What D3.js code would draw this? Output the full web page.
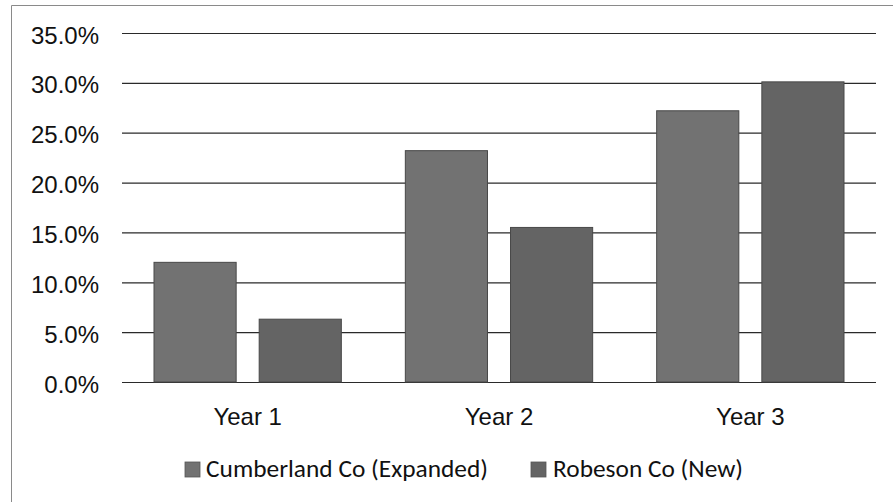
<!DOCTYPE html>
<html>
<head>
<meta charset="utf-8">
<script src="https://cdn.jsdelivr.net/npm/d3@7"></script>
<style>
  html, body { margin: 0; padding: 0; background: #fff; }
  svg { display: block; }
</style>
</head>
<body>
<svg id="chart" width="893" height="502"></svg>
<script>
// Categories, series and tick values
const years = ["Year 1", "Year 2", "Year 3"];
const seriesNames = ["Cumberland Co (Expanded)", "Robeson Co (New)"];
const cumberland = [12.0, 23.2, 27.2];
const robeson = [6.3, 15.5, 30.1];
const yTicks = [0, 5, 10, 15, 20, 25, 30, 35];
const seriesColors = ["#727272", "#646464"];

const svg = d3.select("#chart");
const W = 893, H = 502;

const plot = { left: 122, right: 876, top: 33, bottom: 382 };

// outer frame (top and left edges visible)
svg.append("line").attr("x1", 11.5).attr("x2", W).attr("y1", 5.5).attr("y2", 5.5)
  .attr("stroke", "#8a8a8a").attr("stroke-width", 1);
svg.append("line").attr("x1", 11.5).attr("x2", 11.5).attr("y1", 5.5).attr("y2", H)
  .attr("stroke", "#8a8a8a").attr("stroke-width", 1);

const y = d3.scaleLinear().domain([0, 35]).range([plot.bottom, plot.top]);
const x = d3.scaleBand().domain(years).range([plot.left, plot.right]).padding(0);
const bandW = x.bandwidth();
// two bars per year: 32px outer margin, 23px gap between bars
const xs = d3.scaleBand().domain(seriesNames)
  .range([32, bandW - 32]).paddingInner(0.219);

// y axis with gridlines
const yAxis = d3.axisLeft(y)
  .tickValues(yTicks)
  .tickSize(-(plot.right - plot.left))
  .tickPadding(23)
  .tickFormat(d => d.toFixed(1) + "%");

const gy = svg.append("g")
  .attr("transform", `translate(${plot.left},0)`)
  .call(yAxis);
gy.select(".domain").remove();
gy.selectAll(".tick line").attr("stroke", "#2a2a2a").attr("stroke-width", 1.2);
gy.selectAll(".tick text")
  .attr("font-family", "'Liberation Sans', Arial, sans-serif")
  .attr("font-size", 24)
  .attr("fill", "#111")
  .attr("dy", "0.42em");

// bars
const data = years.map((yr, i) => ({ year: yr, values: [cumberland[i], robeson[i]] }));
const groups = svg.append("g").selectAll("g")
  .data(data).join("g")
  .attr("transform", d => `translate(${x(d.year)},0)`);

groups.selectAll("rect")
  .data(d => d.values.map((v, j) => ({ name: seriesNames[j], value: v, idx: j })))
  .join("rect")
  .attr("x", d => xs(d.name))
  .attr("width", xs.bandwidth())
  .attr("y", d => y(d.value))
  .attr("height", d => y(0) - y(d.value))
  .attr("fill", d => seriesColors[d.idx])
  .attr("stroke", "#484848")
  .attr("stroke-width", 1);

// x axis labels
const xAxis = d3.axisBottom(x).tickSize(0).tickPadding(26);
const gx = svg.append("g")
  .attr("transform", `translate(0,${plot.bottom})`)
  .call(xAxis);
gx.select(".domain").remove();
gx.selectAll(".tick text")
  .attr("font-family", "'Liberation Sans', Arial, sans-serif")
  .attr("font-size", 24)
  .attr("fill", "#111");

// legend
const legendItems = [
  { name: seriesNames[0], sx: 185, tx: 206, tw: 282, color: seriesColors[0] },
  { name: seriesNames[1], sx: 531, tx: 553, tw: 190, color: seriesColors[1] }
];
const lg = svg.append("g");
legendItems.forEach(it => {
  lg.append("rect")
    .attr("x", it.sx).attr("y", 462).attr("width", 15).attr("height", 15)
    .attr("fill", it.color).attr("stroke", "#555").attr("stroke-width", 0.8);
  lg.append("text")
    .attr("x", it.tx).attr("y", 477)
    .attr("font-family", "Carlito, Lato, 'Open Sans', sans-serif")
    .attr("font-size", 25)
    .attr("fill", "#111")
    .attr("textLength", it.tw)
    .attr("lengthAdjust", "spacingAndGlyphs")
    .text(it.name);
});
</script>
</body>
</html>
